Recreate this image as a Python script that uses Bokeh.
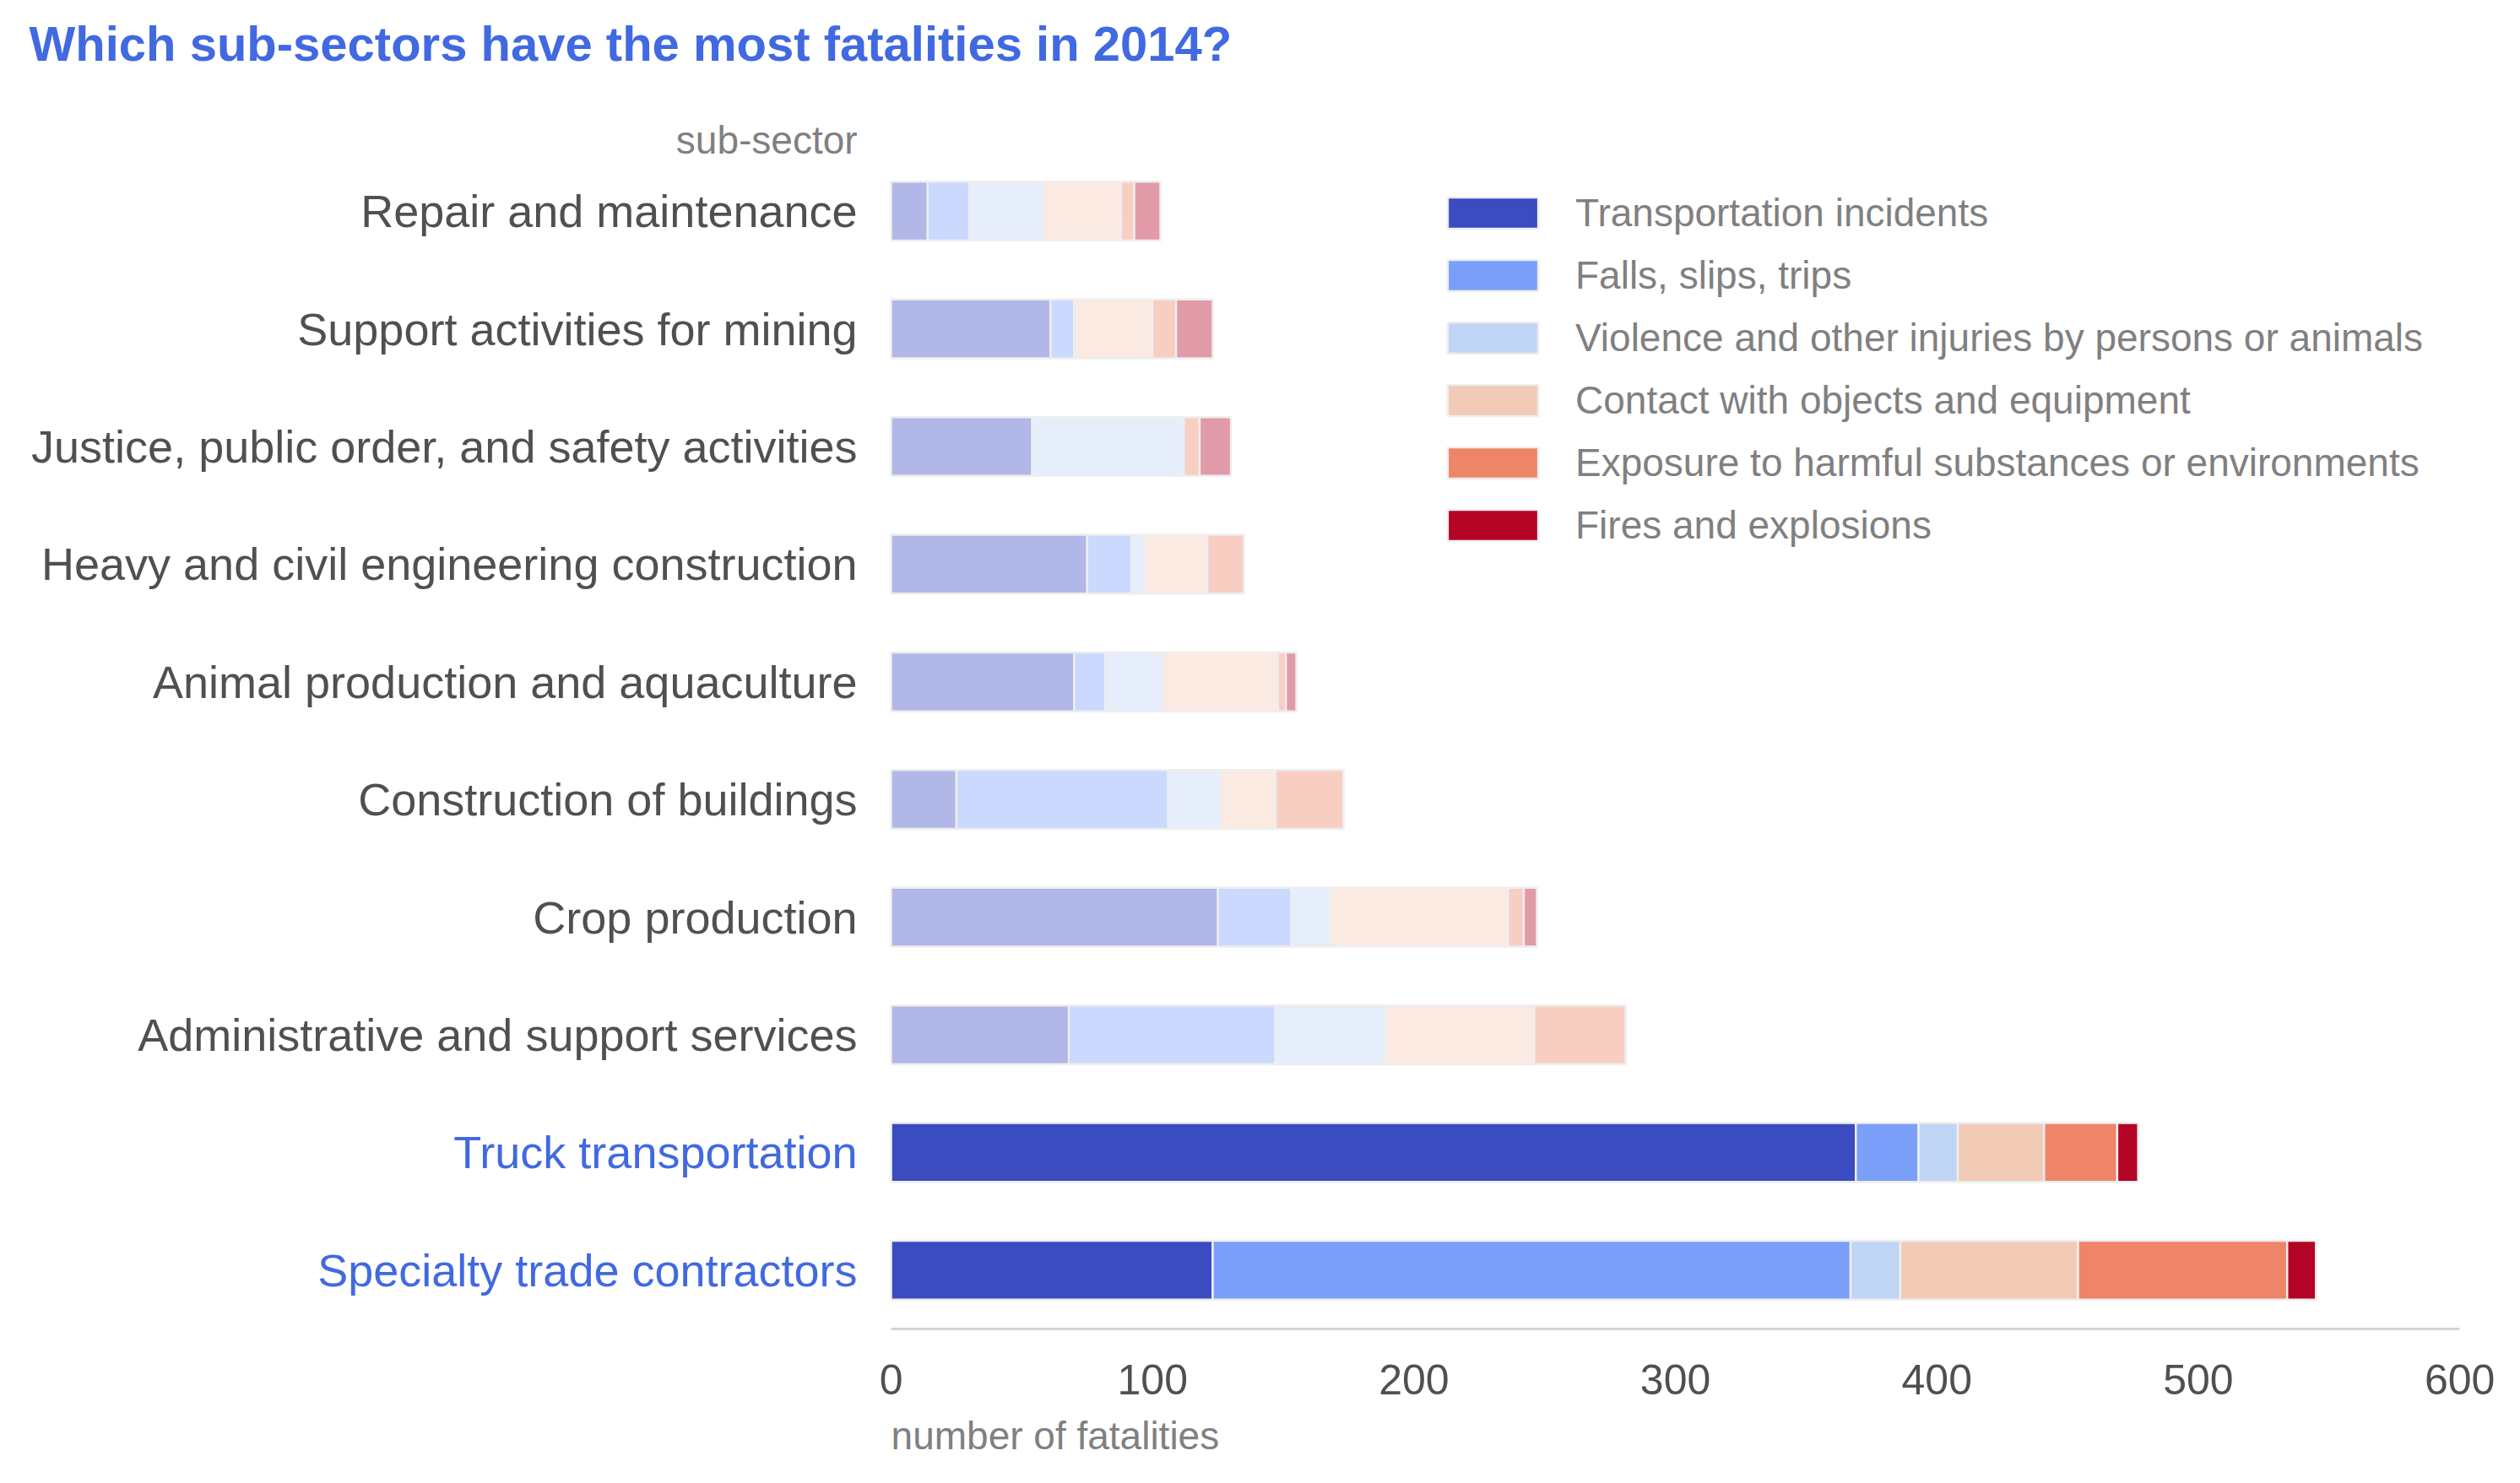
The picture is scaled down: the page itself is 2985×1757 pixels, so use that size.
from bokeh.plotting import figure
from bokeh.models import (ColumnDataSource, FactorRange, Range1d, Label, LabelSet,
                          Legend, LegendItem, FixedTicker)
from bokeh.core.properties import value
from bokeh.embed import file_html
from bokeh.resources import INLINE

# ---------------- data (top to bottom as displayed) ----------------
sectors = [
    "Repair and maintenance",
    "Support activities for mining",
    "Justice, public order, and safety activities",
    "Heavy and civil engineering construction",
    "Animal production and aquaculture",
    "Construction of buildings",
    "Crop production",
    "Administrative and support services",
    "Truck transportation",
    "Specialty trade contractors",
]
transportation = [14, 61, 54, 75, 70, 25, 125, 68, 369, 123]
falls          = [16, 9, 0, 17, 12, 81, 28, 79, 24, 244]
violence       = [28, 0, 58, 5, 22, 20, 15, 42, 15, 19]
contact        = [30, 30, 0, 24, 44, 21, 68, 57, 33, 68]
exposure       = [5, 9, 6, 14, 3, 26, 6, 35, 28, 80]
fires          = [10, 14, 12, 0, 4, 0, 5, 0, 8, 11]

causes = [
    "Transportation incidents",
    "Falls, slips, trips",
    "Violence and other injuries by persons or animals",
    "Contact with objects and equipment",
    "Exposure to harmful substances or environments",
    "Fires and explosions",
]
cause_colors = ["#3b4cc0", "#7b9ff9", "#c0d4f5", "#f2cbb7", "#ee8468", "#b40426"]
highlighted = ["Truck transportation", "Specialty trade contractors"]
x_ticks = [0, 100, 200, 300, 400, 500, 600]

title_text = "Which sub-sectors have the most fatalities in 2014?"
x_label = "number of fatalities"
y_label = "sub-sector"

FONT = "Liberation Sans"
BLUE = "#4169e1"
DARK = "#505050"
GREY = "#808080"

# ---------------- sources ----------------
keys = ["c0", "c1", "c2", "c3", "c4", "c5"]
series = [transportation, falls, violence, contact, exposure, fires]


def subset(names):
    idx = [sectors.index(n) for n in names]
    d = {"sector": [sectors[i] for i in idx]}
    for k, s in zip(keys, series):
        d[k] = [s[i] for i in idx]
    return ColumnDataSource(d)


hi_src = subset([s for s in sectors if s in highlighted])
lo_src = subset([s for s in sectors if s not in highlighted])

# ---------------- figure ----------------
# The frame covers the whole canvas so that all texts live inside it.
p = figure(
    width=2980, height=1754,
    y_range=FactorRange(factors=sectors[::-1], range_padding=1.291,
                        range_padding_units="absolute"),
    x_range=Range1d(-340.7, 621.6),
    output_backend="svg", toolbar_location=None, title=None,
    min_border_left=0, min_border_right=0, min_border_top=0, min_border_bottom=0,
)
p.outline_line_color = None
p.xgrid.visible = False
p.ygrid.visible = False
p.yaxis.visible = False

lo_r = p.hbar_stack(keys, y="sector", height=0.5, source=lo_src,
                    fill_color=cause_colors, fill_alpha=0.4,
                    line_color="#eeeeee", line_width=2.5)
hi_r = p.hbar_stack(keys, y="sector", height=0.5, source=hi_src,
                    fill_color=cause_colors, fill_alpha=1.0,
                    line_color="#eeeeee", line_width=2.5)

# x axis, placed at the bottom edge of the lowest bar slot
ax = p.xaxis[0]
ax.fixed_location = 0
ax.bounds = (0, 600)
ax.ticker = FixedTicker(ticks=x_ticks)
ax.major_tick_line_color = None
ax.minor_tick_line_color = None
ax.axis_line_color = "#d3d3d3"
ax.axis_line_width = 3
ax.major_label_text_font = FONT
ax.major_label_text_font_size = "50px"
ax.major_label_text_color = DARK
ax.major_label_standoff = 36

# category labels
lab_src = ColumnDataSource(dict(
    sector=sectors,
    color=[BLUE if s in highlighted else DARK for s in sectors],
))
p.add_layout(LabelSet(x=0, x_offset=-40, y="sector", text="sector", source=lab_src,
                      text_align="right", text_baseline="middle",
                      text_color="color", text_font_size=value("54px"),
                      text_font=value(FONT)))

# axis titles and chart title
p.add_layout(Label(x=0, y=10, x_offset=-40, y_offset=14, text=y_label,
                   text_align="right", text_baseline="middle",
                   text_font=FONT, text_font_size="46px", text_color=GREY))
p.add_layout(Label(x=0, y=0, y_offset=-126, text=x_label,
                   text_align="left", text_baseline="middle",
                   text_font=FONT, text_font_size="46px", text_color=GREY))
p.add_layout(Label(x=0, y=10, x_offset=-1021, y_offset=129, text=title_text,
                   text_align="left", text_baseline="middle",
                   text_font=FONT, text_font_size="58px", text_font_style="bold",
                   text_color=BLUE))

# legend
items = [LegendItem(label=c, renderers=[r]) for c, r in zip(causes, hi_r)]
legend = Legend(items=items, location=(1701, 1105), padding=0, margin=0,
                border_line_color=None, background_fill_alpha=0,
                glyph_width=134, glyph_height=46, label_standoff=31, spacing=20,
                label_text_font=FONT, label_text_font_size="46px",
                label_text_color=GREY)
p.add_layout(legend)

open("out.html", "w").write(file_html(p, INLINE))
